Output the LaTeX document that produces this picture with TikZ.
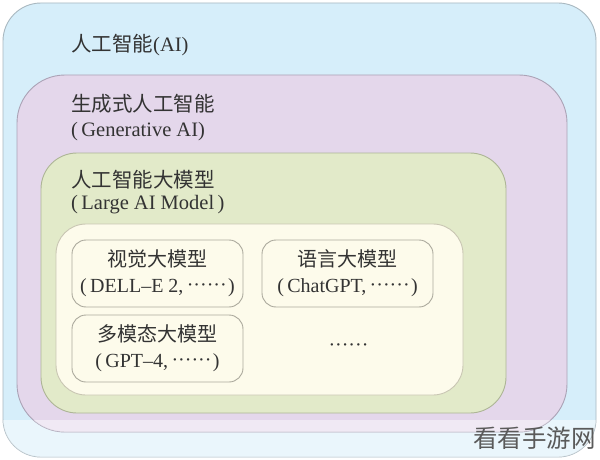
\documentclass[tikz,border=0pt]{standalone}
\usepackage{fontspec}
\setmainfont{Liberation Serif}
\newfontfamily\cjk{Noto Sans CJK SC}
\newfontfamily\wmfont{Noto Sans CJK SC}
\definecolor{bluefill}{HTML}{D6EEFA}
\definecolor{blueline}{HTML}{A9B8C0}
\definecolor{purplefill}{HTML}{E4D7EB}
\definecolor{purpleline}{HTML}{ABA3B6}
\definecolor{greenfill}{HTML}{E2EAC9}
\definecolor{greenline}{HTML}{ADB596}
\definecolor{creamfill}{HTML}{FDFBEB}
\definecolor{creamline}{HTML}{C9C6B3}
\definecolor{boxline}{HTML}{ABA99C}
\definecolor{txt}{HTML}{333333}
\definecolor{wm}{HTML}{5A5A5A}
\newcommand{\sixdots}{\raisebox{1pt}{\makebox[38pt][s]{·\hfil·\hfil·\hfil·\hfil·\hfil·}}}
\tikzset{
  layer/.style={line width=0.9pt, inner sep=0pt, outer sep=0pt},
  lbl/.style={inner sep=0pt, anchor=west, text=txt, font=\fontsize{20.5}{24}\selectfont},
  modelbox/.style={draw=boxline, fill=creamfill, line width=0.9pt, rounded corners=14pt,
    minimum width=171pt, minimum height=67pt, inner sep=0pt, align=center, text=txt,
    font=\fontsize{20}{26}\selectfont},
  wmark/.style={inner sep=0pt, text=wm, font=\wmfont\fontsize{24.5}{26}\selectfont}
}
\begin{document}
\begin{tikzpicture}[x=1pt,y=-1pt]
\useasboundingbox (0,0) rectangle (600,460);
\fill[white] (0,0) rectangle (600,460);
% layers
\node[layer, draw=blueline, fill=bluefill, rounded corners=38pt,
  minimum width=593pt, minimum height=454pt] (ai) at (299.5,230) {};
\begin{scope}
  \clip[rounded corners=38pt] (3,3) rectangle (596,457);
  \fill[white,opacity=0.5] (0,420) rectangle (600,460);
\end{scope}
\node[layer, draw=purpleline, fill=purplefill, rounded corners=48pt,
  minimum width=550pt, minimum height=357pt] (gen) at (292,253.5) {};
\begin{scope}
  \clip[rounded corners=48pt] (17,75) rectangle (567,432);
  \fill[white,opacity=0.45] (0,420) rectangle (600,460);
\end{scope}
\node[layer, draw=greenline, fill=greenfill, rounded corners=36pt,
  minimum width=465pt, minimum height=260pt] (large) at (273.5,283) {};
\node[layer, draw=creamline, fill=creamfill, rounded corners=30pt,
  minimum width=407pt, minimum height=171pt] (inner) at (259.5,309.5) {};
% labels
\node[lbl] (t1) at (71,45) {{\cjk 人工智能}(AI)};
\node[lbl] (t2) at (71,104) {\cjk 生成式人工智能};
\node[lbl] (t2b) at (71,132) {(\,Generative AI)};
\node[lbl] (t3) at (71,180) {\cjk 人工智能大模型};
\node[lbl] (t3b) at (71,205) {(\,Large AI Model\,)};
% model boxes
\node[modelbox] (vis) at (157.5,273.5) {{\cjk 视觉大模型}\\(\,DELL–E 2,\,\sixdots\,)};
\node[modelbox] (lang) at (347.5,273.5) {{\cjk 语言大模型}\\(\,ChatGPT,\,\sixdots\,)};
\node[modelbox] (multi) at (157.5,348.5) {{\cjk 多模态大模型}\\(\,GPT–4,\,\sixdots\,)};
\node[inner sep=0pt, text=txt, font=\fontsize{20}{24}\selectfont] (more) at (347.5,348) {\sixdots};
% watermark
\node[wmark, anchor=east] (wm) at (596,438) {看看手游网};
\end{tikzpicture}
\end{document}
